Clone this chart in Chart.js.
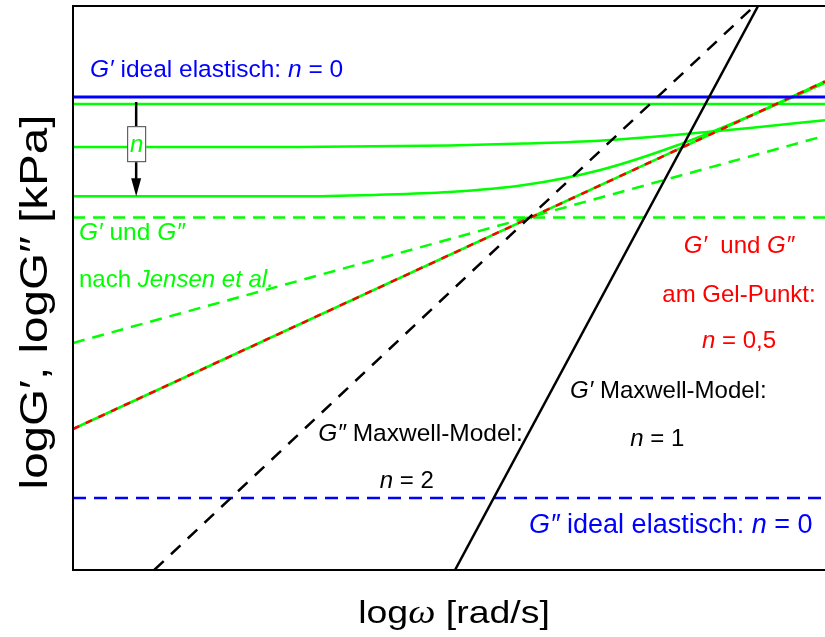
<!DOCTYPE html>
<html>
<head>
<meta charset="utf-8">
<script src="https://cdn.jsdelivr.net/npm/chart.js@4.4.1/dist/chart.umd.min.js"></script>
<style>
  body { margin: 0; background: #fff; }
</style>
</head>
<body>
<canvas id="c" width="825" height="637"></canvas>
<script>
// log omega positions for the curved Jensen lines
const logW = [0, 1, 2, 3, 4, 5, 6, 7, 8, 9, 10]
const jensenG1Top = [6.61, 6.61, 6.61, 6.61, 6.61, 6.61, 6.61, 6.61, 6.61, 6.61, 6.61]
const jensenG1Mid = [6.00, 6.00, 6.00, 6.00, 6.01, 6.02, 6.05, 6.09, 6.17, 6.27, 6.38]
const jensenG1Low = [5.30, 5.30, 5.30, 5.30, 5.32, 5.36, 5.46, 5.67, 6.01, 6.44, 6.91]

// straight lines (two end points each)
const lineX = [0, 10]
const jensenG2Flat = [5.00, 5.00]
const jensenG2Slope = [3.22, 6.16]
const gelPoint = [2.00, 6.93]
const idealG1 = [6.71, 6.71]
const idealG2 = [1.02, 1.02]
const maxwellG2X = [1.08, 9.06]
const maxwellG2Y = [0, 8]
const maxwellG1X = [5.08, 9.11]
const maxwellG1Y = [0, 8]

const GREEN = '#00ff00'
const BLUE = '#0000ff'
const RED = '#ff0000'

const pts = (xs, ys) => xs.map((x, i) => ({ x: x, y: ys[i] }))

const line = (data, color, width, dash, extra) => Object.assign({
  data: data,
  borderColor: color,
  borderWidth: width,
  borderDash: dash || [],
  showLine: true,
  pointRadius: 0,
  fill: false
}, extra || {})

// text notes, placed in data coordinates: [text, italic]
const notes = [
  { runs: [['G′', 1], [' ideal elastisch: ', 0], ['n', 1], [' = 0', 0]], x: 0.226, y: 6.99, color: BLUE, align: 'left', size: 24.5 },
  { runs: [['G′', 1], [' und ', 0], ['G″', 1]], x: 0.08, y: 4.68, color: GREEN, align: 'left', size: 24.5 },
  { runs: [['nach ', 0], ['Jensen et al.', 1]], x: 0.08, y: 4.01, color: GREEN, align: 'left', size: 24 },
  { runs: [['G′', 1], ['  und ', 0], ['G″', 1]], x: 8.856, y: 4.50, color: RED, align: 'center', size: 24 },
  { runs: [['am Gel-Punkt:', 0]], x: 8.856, y: 3.80, color: RED, align: 'center', size: 24 },
  { runs: [['n', 1], [' = 0,5', 0]], x: 8.856, y: 3.15, color: RED, align: 'center', size: 24 },
  { runs: [['G′', 1], [' Maxwell-Model:', 0]], x: 6.61, y: 2.44, color: '#000', align: 'left', size: 24 },
  { runs: [['n', 1], [' = 1', 0]], x: 7.41, y: 1.76, color: '#000', align: 'left', size: 24 },
  { runs: [['G″', 1], [' Maxwell-Model:', 0]], x: 3.26, y: 1.83, color: '#000', align: 'left', size: 24.5 },
  { runs: [['n', 1], [' = 2', 0]], x: 4.08, y: 1.16, color: '#000', align: 'left', size: 24 },
  { runs: [['G″', 1], [' ideal elastisch: ', 0], ['n', 1], [' = 0', 0]], x: 6.064, y: 0.525, color: BLUE, align: 'left', size: 27 }
]

const SANS = '"Liberation Sans", Arial, sans-serif'

// draws mixed upright/italic runs; stretch widens the text along its direction
function drawRuns(ctx, runs, x, y, align, size, color, stretch) {
  const k = stretch || 1
  const fonts = runs.map(r => r[2] || ((r[1] ? 'italic ' : '') + size + 'px ' + SANS))
  let total = 0
  runs.forEach((r, i) => { ctx.font = fonts[i]; total += ctx.measureText(r[0]).width })
  ctx.save()
  ctx.translate(x, y)
  ctx.scale(k, 1)
  let cx = align === 'center' ? -total / 2 : 0
  ctx.fillStyle = color
  ctx.textBaseline = 'alphabetic'
  ctx.textAlign = 'left'
  runs.forEach((r, i) => {
    ctx.font = fonts[i]
    ctx.fillText(r[0], cx, 0)
    cx += ctx.measureText(r[0]).width
  })
  ctx.restore()
}

const decorations = {
  id: 'decorations',
  afterDraw(chart) {
    const { ctx, chartArea: a, scales: { x, y } } = chart
    ctx.save()

    // frame: left, top, bottom
    ctx.strokeStyle = '#000'
    ctx.lineWidth = 2
    ctx.beginPath()
    ctx.moveTo(a.right + 2, a.top)
    ctx.lineTo(a.left, a.top)
    ctx.lineTo(a.left, a.bottom)
    ctx.lineTo(a.right + 2, a.bottom)
    ctx.stroke()

    notes.forEach(n => {
      drawRuns(ctx, n.runs, x.getPixelForValue(n.x), y.getPixelForValue(n.y), n.align, n.size, n.color)
    })

    // arrow with the "n" box
    const ax = x.getPixelForValue(0.84)
    const y0 = y.getPixelForValue(6.61) - 2
    const y1 = y.getPixelForValue(5.30)
    ctx.strokeStyle = '#000'
    ctx.lineWidth = 2.5
    ctx.beginPath()
    ctx.moveTo(ax, y0)
    ctx.lineTo(ax, y1 - 14)
    ctx.stroke()
    ctx.fillStyle = '#000'
    ctx.beginPath()
    ctx.moveTo(ax - 5, y1 - 18)
    ctx.lineTo(ax + 5, y1 - 18)
    ctx.lineTo(ax, y1)
    ctx.closePath()
    ctx.fill()
    const by = y.getPixelForValue(6.04)
    ctx.fillStyle = '#fff'
    ctx.fillRect(ax - 9, by - 18, 19, 36)
    ctx.strokeStyle = '#444'
    ctx.lineWidth = 1
    ctx.strokeRect(ax - 9 + 0.5, by - 18 + 0.5, 18, 35)
    ctx.font = 'italic 24px ' + SANS
    ctx.fillStyle = GREEN
    ctx.textAlign = 'center'
    ctx.textBaseline = 'middle'
    ctx.fillText('n', ax + 0.5, by + 1)

    // axis titles
    drawRuns(ctx, [['log', 0], ['ω', 1, 'italic 33px "Liberation Serif", serif'], [' [rad/s]', 0]],
      454, 623, 'center', 32, '#000', 1.17)
    ctx.translate(47, 302)
    ctx.rotate(-Math.PI / 2)
    drawRuns(ctx, [['logG′, logG″ [kPa]', 0]], 0, 0, 'center', 39, '#000', 1.22)

    ctx.restore()
  }
}

new Chart(document.getElementById('c'), {
  type: 'scatter',
  data: {
    datasets: [
      line(pts(maxwellG1X, maxwellG1Y), '#000', 2.5),
      line(pts(maxwellG2X, maxwellG2Y), '#000', 2.5, [13, 10]),
      line(pts(lineX, idealG1), BLUE, 3),
      line(pts(lineX, idealG2), BLUE, 2.5, [13, 8]),
      line(pts(lineX, gelPoint), RED, 2.5, [7, 7]),
      line(pts(lineX, gelPoint), GREEN, 2.5),
      line(pts(logW, jensenG1Top), GREEN, 2.5),
      line(pts(logW, jensenG1Mid), GREEN, 2.5, [], { cubicInterpolationMode: 'monotone' }),
      line(pts(logW, jensenG1Low), GREEN, 2.5, [], { cubicInterpolationMode: 'monotone' }),
      line(pts(lineX, jensenG2Flat), GREEN, 2.5, [12, 8]),
      line(pts(lineX, jensenG2Slope), GREEN, 2.5, [12, 8])
    ]
  },
  options: {
    responsive: false,
    animation: false,
    devicePixelRatio: 1,
    layout: { padding: { top: 6, right: 0, left: 0, bottom: 0 } },
    plugins: { legend: { display: false }, tooltip: { enabled: false } },
    scales: {
      x: {
        type: 'linear', min: 0, max: 10,
        ticks: { display: false },
        grid: { display: false },
        border: { display: false },
        afterFit: s => { s.height = 67 }
      },
      y: {
        type: 'linear', min: 0, max: 8,
        ticks: { display: false },
        grid: { display: false },
        border: { display: false },
        afterFit: s => { s.width = 73 }
      }
    }
  },
  plugins: [decorations]
})
</script>
</body>
</html>
